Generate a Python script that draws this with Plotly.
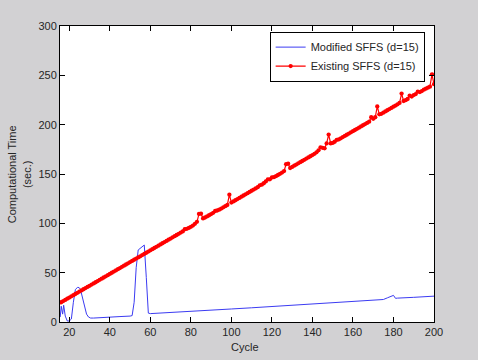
import plotly.graph_objects as go

# ---- data ----
red_x = list(range(16, 201))
red_y = [
    20.0, 21.2, 22.4, 23.6, 24.8, 26.0, 27.2, 28.4, 29.6, 30.8,   # 16-25
    32.0, 33.2, 34.4, 35.5, 36.7, 37.9, 39.1, 40.3, 41.5, 42.7,   # 26-35
    43.9, 45.1, 46.3, 47.5, 48.7, 49.9, 51.1, 52.3, 53.5, 54.7,   # 36-45
    55.9, 57.1, 58.3, 59.5, 60.7, 61.9, 63.1, 64.3, 65.4, 66.6,   # 46-55
    67.8, 69.0, 70.2, 71.4, 72.6, 73.8, 75.0, 76.2, 77.4, 78.6,   # 56-65
    79.8, 81.0, 82.2, 83.4, 84.6, 85.8, 87.0, 88.2, 89.4, 90.6,   # 66-75
    91.8, 94.0, 94.4, 95.3, 96.5, 97.7, 99.5, 101.5, 109.5, 109.8,  # 76-85
    105.0, 105.9, 107.0, 108.2, 109.4, 110.6, 112.5, 113.0, 113.8, 115.0,  # 86-95
    116.2, 117.4, 118.6, 129.0, 121.0, 122.2, 123.4, 124.6, 125.8, 127.0,  # 96-105
    128.2, 129.4, 130.6, 131.8, 133.0, 134.2, 135.4, 136.6, 138.5, 139.2,  # 106-115
    140.6, 142.5, 144.5, 144.6, 146.5, 146.8, 147.8, 149.0, 150.2, 151.4,  # 116-125
    153.0, 160.0, 160.5, 156.0, 157.2, 158.4, 159.6, 160.8, 162.0, 163.2,  # 126-135
    164.4, 165.6, 166.8, 168.0, 169.2, 170.4, 172.0, 174.0, 177.0, 176.5,  # 136-145
    176.0, 181.0, 190.0, 181.0, 181.5, 182.7, 184.5, 185.0, 186.2, 187.4,  # 146-155
    188.6, 189.8, 191.0, 192.2, 193.4, 194.6, 195.8, 197.0, 198.2, 199.4,  # 156-165
    200.6, 201.8, 203.0, 207.5, 206.0, 207.5, 218.5, 210.5, 211.0, 212.2,  # 166-175
    213.4, 214.6, 215.8, 217.0, 218.2, 219.4, 220.6, 222.0, 231.5, 224.0,  # 176-185
    224.8, 226.0, 229.5, 228.5, 230.0, 231.0, 233.5, 233.0, 234.0, 235.5,  # 186-195
    236.5, 237.5, 238.5, 251.0, 241.0,                                     # 196-200
]

blue_x = [15.5, 16, 16.7, 17.2, 18, 18.5, 19, 20, 21, 22, 23, 24, 24.8, 25.5,
          26.5, 27.5, 28.5, 29.5, 30.5, 32, 35, 40, 45, 50, 51, 52, 53, 54,
          55, 56, 57, 58, 59, 60, 70, 80, 90, 100, 110, 120, 130, 140, 150,
          160, 170, 175, 177, 179, 180, 181, 182, 190, 200]
blue_y = [5, 16, 8, 17, 6, 2, 1, 1, 3, 20, 33, 35, 35, 33,
          25, 15, 8, 5, 4, 4, 4.5, 5, 5.5, 6, 6.5, 20, 55, 73,
          75, 77, 78, 45, 9, 8.5, 9.5, 10.8, 12, 13.2, 14.4, 15.6, 16.8, 18.2, 19.4,
          20.8, 22, 22.8, 24.5, 26, 27, 24, 24.2, 25, 26.2]

x_ticks = [20, 40, 60, 80, 100, 120, 140, 160, 180, 200]
y_ticks = [0, 50, 100, 150, 200, 250, 300]

FONT = "Liberation Sans, Arial, sans-serif"
TXT = "#262626"

fig = go.Figure()
fig.add_trace(go.Scatter(
    x=blue_x, y=blue_y, mode="lines", name="Modified SFFS (d=15)",
    line=dict(color="#3b3bf2", width=1),
))
fig.add_trace(go.Scatter(
    x=red_x, y=red_y, mode="lines+markers", name="Existing SFFS (d=15)",
    line=dict(color="#ff0000", width=1.2),
    marker=dict(color="#ff0000", size=4.3),
))

axis_common = dict(
    showline=True, linecolor="black", linewidth=1, mirror="allticks",
    ticks="inside", ticklen=5, tickcolor="black", tickwidth=1,
    showgrid=False, zeroline=False,
    tickfont=dict(family=FONT, size=11, color=TXT),
)

fig.update_layout(
    width=478, height=360,
    margin=dict(l=60, r=44, t=26, b=38),
    paper_bgcolor="#d2d1d3", plot_bgcolor="white",
    showlegend=True,
    legend=dict(
        x=0.975, y=0.981, xanchor="right", yanchor="top",
        bgcolor="white", bordercolor="black", borderwidth=1,
        font=dict(family=FONT, size=11, color=TXT),
        tracegroupgap=0, itemwidth=30,
    ),
    xaxis=dict(range=[15.4, 200], tickvals=x_ticks, **axis_common),
    yaxis=dict(range=[0, 300], tickvals=y_ticks, **axis_common),
    annotations=[
        dict(text="Cycle", xref="paper", yref="paper", x=0.495, y=-0.085,
             xanchor="center", yanchor="middle", showarrow=False,
             font=dict(family=FONT, size=11, color=TXT)),
        dict(text="Computational Time<br>(sec.)", xref="paper", yref="paper",
             x=-0.109, y=0.5, xanchor="center", yanchor="middle",
             textangle=-90, showarrow=False,
             font=dict(family=FONT, size=11, color=TXT)),
    ],
)

fig.write_html("out.html")
